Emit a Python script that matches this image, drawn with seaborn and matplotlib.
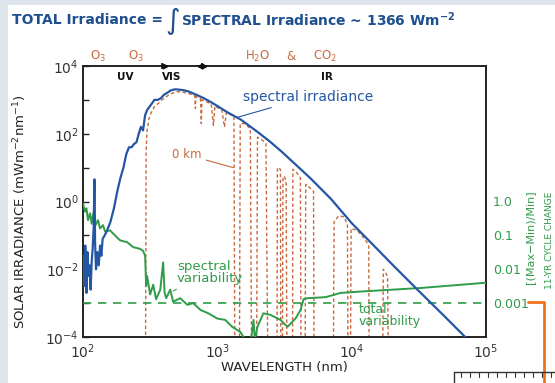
import numpy as np
import pandas as pd
import matplotlib
matplotlib.use("Agg")
import matplotlib.pyplot as plt
import seaborn as sns
from matplotlib.patches import Rectangle
from matplotlib.lines import Line2D
from matplotlib.ticker import FixedLocator, NullFormatter

# ---- data -------------------------------------------------------------
# top-of-atmosphere spectral irradiance (nm, mW m^-2 nm^-1)
toa_wl = [100, 102, 104, 106, 108, 110, 112, 114, 116, 118, 120, 121.6, 123, 125,
          128, 131, 134, 137, 140, 145, 150, 155, 160, 170, 180, 190, 200, 210,
          220, 230, 240, 250, 260, 270, 280, 290, 300, 320, 340, 360, 380, 400,
          420, 450, 480, 500, 550, 600, 700, 800, 900, 1000, 1200, 1500, 2000,
          2500, 3000, 4000, 5000, 7000, 10000, 15000, 20000, 30000, 50000,
          70000, 80000]
toa_irr = [2.5e-2, 3.2e-3, 5.0e-2, 2.0e-3, 3.2e-2, 6.3e-3, 1.3e-2, 2.5e-3, 1.6e-2,
           4.0e-2, 0.16, 4.5, 6.3e-2, 1.0e-2, 3.2e-2, 1.3e-2, 5.0e-2, 2.5e-2,
           7.9e-2, 0.10, 0.13, 0.18, 0.25, 0.63, 2.0, 5.0, 10, 25, 40, 40, 50, 56,
           100, 160, 126, 355, 500, 710, 1000, 1000, 1120, 1410, 1580, 1900,
           2040, 2040, 1950, 1820, 1410, 1100, 850, 660, 420, 260, 112, 56, 30,
           10.5, 4.6, 1.2, 0.23, 0.045, 0.014, 2.8e-3, 3.8e-4, 1.0e-4, 6.3e-5]

# surface (0 km) spectrum with its absorption bands
sfc_wl = [292, 295, 300, 310, 320, 340, 360, 400, 450, 500, 550, 600, 680, 687,
          692, 750, 760, 768, 900, 935, 960, 1080, 1130, 1170, 1330, 1350,
          1460, 1480, 1600, 1760, 1800,
          1960, 1990, 2100, 2300, 2380,
          2780, 2800, 2950, 2970,
          3050, 3080, 3150, 3250, 3300,
          3630, 3650, 3900, 4150, 4200,
          4500, 4550, 4900, 5200, 5250,
          7300, 7400, 8000, 8800, 9300, 9400,
          9800, 9900, 11000, 12500, 13400, 13500,
          17000, 17200, 18500, 18800]
sfc_irr = [1e-5, 32, 126, 280, 400, 630, 760, 1120, 1510, 1740, 1700, 1580, 1320,
           560, 1260, 1070, 200, 1000, 760, 178, 660, 500, 158, 440, 316, 1e-5,
           1e-5, 200, 200, 141, 1e-5,
           1e-5, 79, 71, 52, 1e-5,
           1e-5, 10, 8.9, 1e-5,
           1e-5, 5.0, 5.6, 4.0, 1e-5,
           1e-5, 8.9, 7.1, 5.0, 1e-5,
           1e-5, 3.2, 2.5, 2.0, 1e-5,
           1e-5, 0.25, 0.38, 0.35, 0.2, 1e-5,
           1e-5, 0.16, 0.14, 0.079, 0.05, 1e-5,
           1e-5, 0.01, 0.0063, 1e-5]

# 11-year cycle spectral variability, (Max-Min)/Min
var_wl = [100, 103.5, 106, 109, 112.8, 116, 118.7, 121.6, 124, 129.4, 133.9, 141,
          146, 159, 173, 189, 213, 236, 266, 280, 290, 295, 300, 316, 333, 350,
          376, 395, 405, 416, 446, 469, 529, 598, 662, 748, 857, 1000, 1144,
          1290, 1486, 1620, 1766, 1860, 1900, 1989, 2201, 2484, 2948, 3328,
          3818, 4163, 4383, 4695, 6397, 8270, 11680, 32720, 100000]
var_rel = [0.89, 0.50, 0.63, 0.28, 0.45, 0.22, 0.40, 0.56, 0.20, 0.28, 0.16, 0.20,
           0.13, 0.14, 0.10, 0.071, 0.063, 0.045, 0.040, 0.035, 0.025, 0.0032,
           0.0063, 0.0018, 0.0035, 0.0013, 0.0025, 0.016, 0.0020, 0.0014, 0.0025,
           0.0011, 0.0014, 8.9e-4, 1.0e-3, 6.3e-4, 5.0e-4, 3.5e-4, 3.2e-4,
           2.0e-4, 1.4e-4, 7.9e-5, 6.3e-5, 3.2e-4, 7.9e-5, 2.0e-4, 5.0e-4,
           4.5e-4, 3.2e-4, 2.0e-4, 3.5e-4, 6.3e-4, 1.3e-3, 1.4e-3, 1.5e-3,
           2.0e-3, 2.2e-3, 2.8e-3, 4.0e-3]

total_variability = 0.001

x_ticks = [1e2, 1e3, 1e4, 1e5]
x_tick_labels = ["$10^{2}$", "$10^{3}$", "$10^{4}$", "$10^{5}$"]
y_ticks = [1e-4, 1e-2, 1e0, 1e2, 1e4]
y_tick_labels = ["$10^{-4}$", "$10^{-2}$", "$10^{0}$", "$10^{2}$", "$10^{4}$"]
rel_ticks = [1.0, 0.1, 0.01, 0.001]
rel_tick_labels = ["1.0", "0.1", "0.01", "0.001"]

# ---- style ------------------------------------------------------------
sns.set_style("white")
plt.rcParams["font.family"] = ["DejaVu Sans"]
plt.rcParams["mathtext.default"] = "regular"

BLUE = "#2456a4"
RUST = "#c8683f"
GREEN = "#2e9c48"
TITLE_BLUE = "#1f4f8f"

W, H = 555, 383
fig = plt.figure(figsize=(W / 100, H / 100), dpi=100)
fig.patch.set_facecolor("#dde4eb")


def fp(x, y):
    return x / W, 1 - y / H


fig.add_artist(Rectangle(fp(8, 383), 1, 1 - 5 / H, transform=fig.transFigure,
                         facecolor="white", edgecolor="none", zorder=0))

l, b = fp(83, 337)
ax = fig.add_axes([l, b, (486 - 83) / W, (337 - 66) / H])
ax.set_facecolor("none")

toa = pd.DataFrame({"wavelength": toa_wl, "irradiance": toa_irr})
sfc = pd.DataFrame({"wavelength": sfc_wl, "irradiance": sfc_irr})
var = pd.DataFrame({"wavelength": var_wl, "ratio": var_rel})

sns.lineplot(data=sfc, x="wavelength", y="irradiance", ax=ax, estimator=None,
             sort=False, color=RUST, lw=1.0, linestyle=(0, (2.5, 1.8)), zorder=2)
sns.lineplot(data=var, x="wavelength", y="ratio", ax=ax, estimator=None,
             sort=False, color=GREEN, lw=1.4, zorder=3)
sns.lineplot(data=toa, x="wavelength", y="irradiance", ax=ax, estimator=None,
             sort=False, color=BLUE, lw=1.6, zorder=4)
ax.axhline(total_variability, color=GREEN, lw=1.2, ls=(0, (5, 4)), zorder=3)

ax.set_xscale("log")
ax.set_yscale("log")
ax.set_xlim(1e2, 1e5)
ax.set_ylim(1e-4, 1e4)
ax.set_xlabel("")
ax.set_ylabel("")

ax.xaxis.set_major_locator(FixedLocator(x_ticks))
ax.set_xticklabels(x_tick_labels)
ax.xaxis.set_minor_locator(FixedLocator(
    [m * d for d in (1e2, 1e3, 1e4) for m in range(2, 10)]))
ax.xaxis.set_minor_formatter(NullFormatter())
ax.yaxis.set_major_locator(FixedLocator(y_ticks))
ax.set_yticklabels(y_tick_labels)
ax.yaxis.set_minor_locator(FixedLocator([1e-3, 1e-1, 1e1, 1e3]))
ax.yaxis.set_minor_formatter(NullFormatter())

ax.tick_params(axis="both", which="both", direction="in", colors="#222222",
               labelsize=10, labelcolor="#333333")
ax.tick_params(axis="y", which="both", length=4, width=1, right=True, pad=3)
ax.tick_params(axis="x", which="major", length=4, width=1.2, pad=4)
ax.tick_params(axis="x", which="minor", length=3, width=1)
for s in ax.spines.values():
    s.set_color("#222222")
    s.set_linewidth(1.4)

# relative-change scale on the right
ax2 = ax.twinx()
ax2.set_yscale("log")
ax2.set_ylim(1e-4, 1e4)
ax2.yaxis.set_major_locator(FixedLocator(rel_ticks))
ax2.set_yticklabels(rel_tick_labels)
ax2.yaxis.set_minor_locator(FixedLocator([]))
ax2.tick_params(axis="y", length=0, pad=5, labelsize=9, labelcolor=GREEN)
for s in ax2.spines.values():
    s.set_visible(False)

# ---- annotations ------------------------------------------------------
ax.annotate("spectral irradiance", xy=(1390, 300), xytext=(1560, 1220),
            color=BLUE, fontsize=10, va="center", ha="left",
            arrowprops=dict(arrowstyle="-", color=BLUE, lw=0.8,
                            shrinkA=1, shrinkB=0))
ax.annotate("0 km", xy=(1315, 10), xytext=(460, 24), color=RUST, fontsize=8.5,
            va="center", ha="left",
            arrowprops=dict(arrowstyle="-", color=RUST, lw=0.8,
                            shrinkA=1, shrinkB=0))
ax.annotate("spectral\nvariability", xy=(470, 2.3e-3), xytext=(500, 8e-3),
            color=GREEN, fontsize=9.5, va="center", ha="left", linespacing=0.85,
            arrowprops=dict(arrowstyle="-", color=GREEN, lw=0.8,
                            shrinkA=2, shrinkB=0))
ax.text(11300, 4.3e-4, "total\nvariability", color=GREEN, fontsize=9,
        va="center", ha="left", linespacing=0.85)

# spectral regions along the top edge
for label, x in (("UV", 125), ("VIS", 172), ("IR", 327)):
    fig.text(*fp(x, 77), label, fontsize=7.5, weight="bold", color="#111111",
             ha="center", va="center")
for label, x in (("O$_3$", 98), ("O$_3$", 136), ("H$_2$O", 258), ("&", 291),
                 ("CO$_2$", 325)):
    fig.text(*fp(x, 56), label, fontsize=8.5, color=RUST, ha="center",
             va="center")
ax.plot([390, 770], [1e4, 1e4], ls="none", marker="|", ms=5, mew=1.2,
        color="#111111", clip_on=False, zorder=5)
ax.plot([405], [1e4], ls="none", marker=">", ms=3.5, color="#111111",
        clip_on=False, zorder=5)
ax.plot([740], [1e4], ls="none", marker="<", ms=3.5, color="#111111",
        clip_on=False, zorder=5)
ax.plot([800], [1e4], ls="none", marker=">", ms=3.5, color="#111111",
        clip_on=False, zorder=5)

# title and axis titles
fig.text(*fp(12, 20), "TOTAL Irradiance =", fontsize=10, weight="bold",
         color=TITLE_BLUE, ha="left", va="center")
fig.text(*fp(173, 21), "\u222b", fontsize=20, color=TITLE_BLUE, ha="center",
         va="center")
fig.text(*fp(181, 20), "SPECTRAL Irradiance ~ 1366 Wm$^{-2}$", fontsize=10,
         weight="bold", color=TITLE_BLUE, ha="left", va="center")
fig.text(*fp(20, 212), "SOLAR IRRADIANCE (mWm$^{-2}$nm$^{-1}$)", fontsize=9.5,
         rotation=90, ha="center", va="center", color="#222222")
fig.text(*fp(284, 367), "WAVELENGTH (nm)", fontsize=9.5, ha="center",
         va="center", color="#222222")
fig.text(*fp(530, 237), "[(Max\u2212Min)/Min]", fontsize=8, rotation=90,
         ha="center", va="center", color=GREEN)
fig.text(*fp(550, 240), "11-YR CYCLE CHANGE", fontsize=6.5, rotation=90,
         ha="center", va="center", color=GREEN)

# pointer from the 0.001 level and scale bar below the frame
fig.add_artist(Line2D([528 / W, 544 / W, 544 / W],
                      [1 - 302 / H, 1 - 302 / H, 0], transform=fig.transFigure,
                      color="#f2711c", lw=2))
fig.add_artist(Line2D([454 / W, 454 / W, 1], [0, 1 - 372 / H, 1 - 372 / H],
                      transform=fig.transFigure, color="#333333", lw=1))
for tx in range(461, 555, 9):
    fig.add_artist(Line2D([tx / W, tx / W], [1 - 372 / H, 1 - 377 / H],
                          transform=fig.transFigure, color="#333333", lw=0.8))

fig.savefig("out.png", dpi=100, facecolor=fig.get_facecolor())
